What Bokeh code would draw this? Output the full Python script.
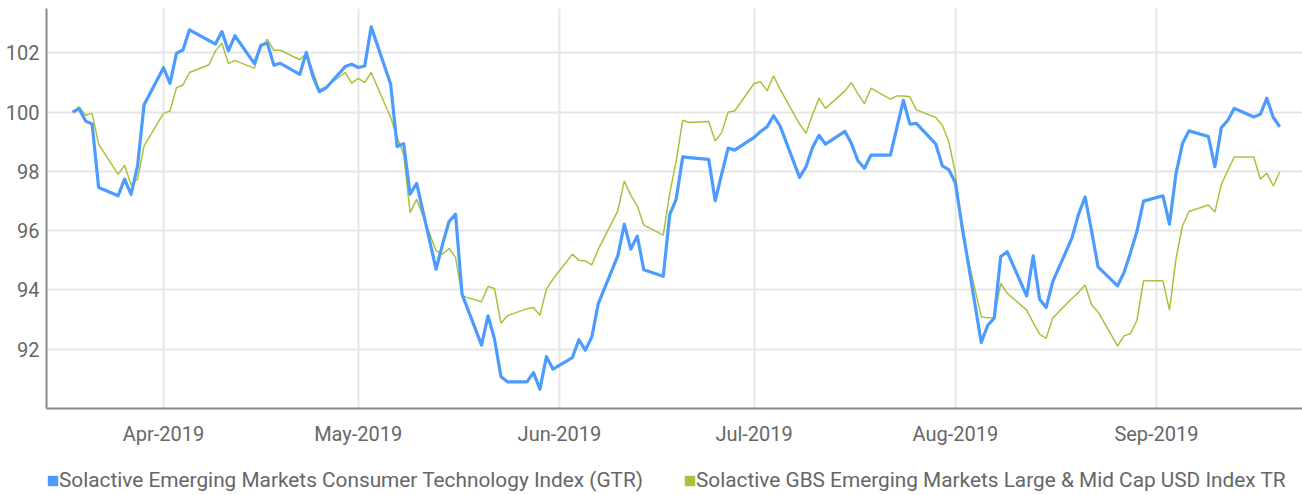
import pandas as pd
from bokeh.plotting import figure
from bokeh.layouts import column
from bokeh.models import Range1d, FixedTicker, DatetimeTickFormatter, Legend, LegendItem
from bokeh.embed import file_html
from bokeh.resources import INLINE

# ---- data (business days 2019-03-18 .. 2019-09-20) ----
dates = pd.bdate_range("2019-03-18", "2019-09-20")

tech_index = [
    100.0, 100.12, 99.7, 99.6, 97.46,
    97.18, 97.74, 97.23, 98.19, 100.25,
    101.5, 100.97, 101.99, 102.1, 102.78,
    102.42, 102.3, 102.72, 102.07, 102.58,
    101.64, 102.26, 102.33, 101.59, 101.65,
    101.28, 102.02, 101.22, 100.69, 100.81,
    101.54, 101.62, 101.51, 101.56, 102.88,
    100.94, 98.84, 98.94, 97.23, 97.6,
    94.7, 95.55, 96.31, 96.56, 93.86,
    92.14, 93.13, 92.34, 91.07, 90.9,
    90.9, 91.21, 90.65, 91.75, 91.33,
    91.72, 92.32, 91.97, 92.42, 93.55,
    95.15, 96.22, 95.38, 95.82, 94.68,
    94.46, 96.54, 97.07, 98.49, 98.47,
    98.41, 97.01, 97.91, 98.79, 98.72,
    99.15, 99.35, 99.51, 99.88, 99.54,
    97.8, 98.16, 98.81, 99.22, 98.92,
    99.35, 98.94, 98.36, 98.11, 98.55,
    98.55, 99.48, 100.4, 99.6, 99.62,
    98.92, 98.19, 98.06, 97.63, 96.22,
    92.23, 92.81, 93.05, 95.13, 95.29,
    93.8, 95.15, 93.69, 93.41, 94.27,
    95.77, 96.56, 97.14, 95.99, 94.78,
    94.14, 94.59, 95.26, 95.99, 97.0,
    97.18, 96.22, 97.91, 98.94, 99.37,
    99.18, 98.16, 99.48, 99.73, 100.13,
    99.84, 99.93, 100.47, 99.82, 99.51,
]

gbs_index = [
    100.0, 100.18, 99.9, 99.96, 98.92,
    97.9, 98.21, 97.55, 97.74, 98.86,
    99.96, 100.04, 100.83, 100.92, 101.34,
    101.6, 102.07, 102.33, 101.64, 101.75,
    101.48, 102.18, 102.46, 102.09, 102.09,
    101.77, 101.98, 101.4, 100.75, 100.85,
    101.34, 100.98, 101.14, 101.0, 101.34,
    99.82, 99.15, 98.58, 96.61, 97.06,
    95.32, 95.21, 95.4, 95.1, 93.8,
    93.6, 94.12, 94.05, 92.88, 93.13,
    93.37, 93.41, 93.15, 94.03, 94.36,
    95.21, 95.0, 94.98, 94.85, 95.38,
    96.67, 97.68, 97.2, 96.84, 96.19,
    95.85, 97.26, 98.36, 99.73, 99.65,
    99.69, 99.03, 99.31, 100.01, 100.04,
    100.97, 101.03, 100.72, 101.23, 100.78,
    99.6, 99.29, 99.91, 100.47, 100.13,
    100.72, 101.0, 100.61, 100.29, 100.81,
    100.44, 100.55, 100.55, 100.52, 100.08,
    99.82, 99.56, 99.01, 97.96, 95.99,
    93.09, 93.06, 93.07, 94.22, 93.89,
    93.32, 92.9, 92.51, 92.37, 93.05,
    93.72, 93.92, 94.17, 93.5, 93.26,
    92.11, 92.45, 92.53, 92.98, 94.31,
    94.31, 93.32, 95.04, 96.16, 96.65,
    96.87, 96.63, 97.57, 98.04, 98.49,
    98.49, 97.74, 97.94, 97.51, 97.98,
]

series_names = [
    "Solactive Emerging Markets Consumer Technology Index (GTR)",
    "Solactive GBS Emerging Markets Large & Mid Cap USD Index TR",
]
month_ticks = ["2019-04-01", "2019-05-01", "2019-06-01", "2019-07-01", "2019-08-01", "2019-09-01"]
y_ticks = [92, 94, 96, 98, 100, 102]

# ---- styling ----
BLUE = "#4c9bff"
GREEN = "#a9c23c"
FONT = "Roboto"
TXT = "#666666"
AXIS = "#8a8a8a"
GRID = "#e6e6e6"

p = figure(
    width=1302, height=460,
    x_axis_type="datetime",
    x_range=Range1d(pd.Timestamp("2019-03-13 23:15"), pd.Timestamp("2019-09-23 12:00")),
    y_range=Range1d(90, 103.5),
    output_backend="svg", toolbar_location=None,
    min_border_left=46, min_border_right=0, min_border_top=8, min_border_bottom=52,
)
p.outline_line_color = None
p.background_fill_color = "white"

tick_ms = [int(pd.Timestamp(t).timestamp() * 1000) for t in month_ticks]
p.xaxis.ticker = FixedTicker(ticks=tick_ms)
fmt = "%b-%Y"
p.xaxis.formatter = DatetimeTickFormatter(
    milliseconds=fmt, seconds=fmt, minsec=fmt, minutes=fmt, hourmin=fmt,
    hours=fmt, days=fmt, months=fmt, years=fmt,
)
p.yaxis.ticker = FixedTicker(ticks=y_ticks)

for ax in (p.xaxis, p.yaxis):
    ax.axis_line_color = AXIS
    ax.axis_line_width = 2
    ax.major_tick_line_color = None
    ax.minor_tick_line_color = None
    ax.major_tick_out = 0
    ax.major_tick_in = 0
    ax.minor_tick_out = 0
    ax.minor_tick_in = 0
    ax.major_label_text_font = FONT
    ax.major_label_text_font_size = "20px"
    ax.major_label_text_color = TXT
p.xaxis.major_label_standoff = 13
p.yaxis.major_label_standoff = 7

p.xgrid.grid_line_color = GRID
p.xgrid.grid_line_width = 2
p.ygrid.grid_line_color = GRID
p.ygrid.grid_line_width = 2

p.line(dates, gbs_index, line_color=GREEN, line_width=1.5)
p.line(dates, tech_index, line_color=BLUE, line_width=3.2, line_join="round")

# ---- legend strip (separate small figure holding only the legend) ----
lg = figure(
    width=1302, height=35, output_backend="svg", toolbar_location=None,
    x_range=Range1d(0, 1), y_range=Range1d(0, 1),
    min_border_left=0, min_border_right=0, min_border_top=0, min_border_bottom=0,
    x_axis_location=None, y_axis_location=None,
)
lg.outline_line_color = None
lg.xgrid.visible = False
lg.ygrid.visible = False
# swatch proxies, placed outside the visible range so only their legend squares show
r_blue = lg.quad(left=[5], right=[6], top=[6], bottom=[5], fill_color=BLUE, line_color=None)
r_green = lg.quad(left=[5], right=[6], top=[6], bottom=[5], fill_color=GREEN, line_color=None)

legend = Legend(
    items=[LegendItem(label=series_names[0], renderers=[r_blue]),
           LegendItem(label=series_names[1], renderers=[r_green])],
    orientation="horizontal",
    location=(0, 3),
    glyph_width=13, glyph_height=13,
    label_standoff=0, spacing=40, padding=0, margin=0,
    label_text_font=FONT, label_text_font_size="20.8px", label_text_color=TXT,
    border_line_color=None, background_fill_alpha=0,
)
lg.add_layout(legend, "center")

layout = column(p, lg, spacing=0)
open("out.html", "w").write(file_html(layout, INLINE))
